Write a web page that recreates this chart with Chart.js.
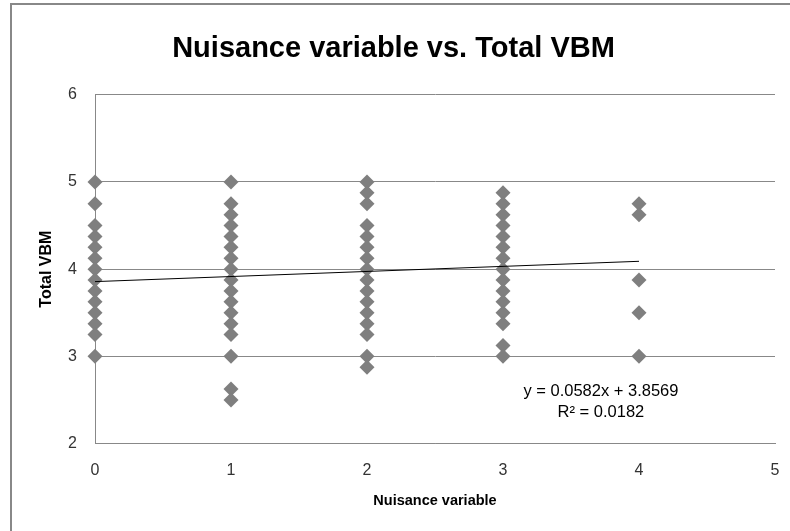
<!DOCTYPE html>
<html>
<head>
<meta charset="utf-8">
<script src="https://cdn.jsdelivr.net/npm/chart.js@4/dist/chart.umd.min.js"></script>
<style>
  body { margin: 0; background: #fff; }
  #wrap { position: relative; width: 790px; height: 531px; }
  #frame { position: absolute; left: 10px; top: 3px; width: 800px; height: 540px;
           border-left: 2px solid #888; border-top: 2px solid #888; }
</style>
</head>
<body>
<div id="wrap">
  <div id="frame"></div>
  <canvas id="myChart" width="790" height="531"></canvas>
</div>
<script>
// Total VBM values for each nuisance variable level
const nuisanceLevels = [0, 1, 2, 3, 4];
const vbmAt0 = [5, 4.75, 4.5, 4.375, 4.25, 4.125, 4, 3.875, 3.75, 3.625, 3.5, 3.375, 3.25, 3];
const vbmAt1 = [5, 4.75, 4.625, 4.5, 4.375, 4.25, 4.125, 4, 3.875, 3.75, 3.625, 3.5, 3.375, 3.25, 3, 2.625, 2.5];
const vbmAt2 = [5, 4.875, 4.75, 4.5, 4.375, 4.25, 4.125, 4, 3.875, 3.75, 3.625, 3.5, 3.375, 3.25, 3, 2.875];
const vbmAt3 = [4.875, 4.75, 4.625, 4.5, 4.375, 4.25, 4.125, 4, 3.875, 3.75, 3.625, 3.5, 3.375, 3.125, 3];
const vbmAt4 = [4.75, 4.625, 3.875, 3.5, 3];

// linear trendline end points
const trendX = [0, 4];
const trendY = [3.857, 4.090];
const trendLabel = ['y = 0.0582x + 3.8569', 'R\u00B2 = 0.0182'];

const xTicks = [0, 1, 2, 3, 4, 5];
const yTicks = [2, 3, 4, 5, 6];

var columns = [vbmAt0, vbmAt1, vbmAt2, vbmAt3, vbmAt4];
var points = [];
columns.forEach(function (col, i) {
	col.forEach(function (v) {
		points.push({ x: nuisanceLevels[i], y: v });
	});
});
var trendPoints = trendX.map(function (x, i) { return { x: x, y: trendY[i] }; });

const trendText = {
	id: 'trendText',
	afterDatasetsDraw: function (chart) {
		var ctx = chart.ctx;
		var xs = chart.scales.x, ys = chart.scales.y;
		ctx.save();
		ctx.fillStyle = '#000';
		ctx.font = '16.5px "Liberation Sans", Arial, sans-serif';
		ctx.textAlign = 'center';
		ctx.textBaseline = 'middle';
		ctx.fillText(trendLabel[0], xs.getPixelForValue(3.72), ys.getPixelForValue(2.6));
		ctx.fillText(trendLabel[1], xs.getPixelForValue(3.72), ys.getPixelForValue(2.36));
		ctx.restore();
	}
};

const ctx = document.getElementById('myChart');

new Chart(ctx, {
	type: 'scatter',
	data: {
		datasets: [{
			type: 'line',
			data: trendPoints,
			borderColor: '#000',
			borderWidth: 1,
			pointRadius: 0,
			fill: false,
			clip: false,
			order: 0
		}, {
			data: points,
			pointStyle: 'rectRot',
			pointRadius: 7.5,
			pointHoverRadius: 7.5,
			backgroundColor: '#7f7f7f',
			borderColor: '#7f7f7f',
			borderWidth: 0,
			clip: false,
			order: 1
		}]
	},
	options: {
		responsive: false,
		animation: false,
		layout: { padding: { left: 12, right: 15, top: 0, bottom: 0 } },
		plugins: {
			legend: { display: false },
			tooltip: { enabled: false },
			title: {
				display: true,
				text: 'Nuisance variable vs. Total VBM',
				color: '#000',
				font: { family: '"Liberation Sans", Arial, sans-serif', size: 29, weight: 'bold' },
				padding: { top: 32, bottom: 28 }
			}
		},
		scales: {
			x: {
				type: 'linear',
				min: 0,
				max: 5,
				afterFit: function (s) { s.height = 87.5; s.paddingLeft = 0; s.paddingRight = 0; },
				afterBuildTicks: function (s) { s.ticks = xTicks.map(function (v) { return { value: v }; }); },
				grid: { display: false, drawTicks: false },
				border: { display: true, color: '#888', width: 1 },
				ticks: { color: '#333', padding: 17, font: { family: '"Liberation Sans", Arial, sans-serif', size: 16 } },
				title: {
					display: true,
					text: 'Nuisance variable',
					color: '#000',
					font: { family: '"Liberation Sans", Arial, sans-serif', size: 14.5, weight: 'bold' },
					padding: { top: 0, bottom: 21 }
				}
			},
			y: {
				min: 2,
				max: 6,
				afterFit: function (s) { s.width = 83; },
				afterBuildTicks: function (s) { s.ticks = yTicks.map(function (v) { return { value: v }; }); },
				grid: { color: '#888', drawTicks: false },
				border: { display: true, color: '#888', width: 1 },
				ticks: { color: '#333', padding: 18, font: { family: '"Liberation Sans", Arial, sans-serif', size: 16 } },
				title: {
					display: true,
					text: 'Total VBM',
					color: '#000',
					font: { family: '"Liberation Sans", Arial, sans-serif', size: 16, weight: 'bold' },
					padding: { top: 25, bottom: 0 }
				}
			}
		}
	},
	plugins: [trendText]
});
</script>
</body>
</html>
